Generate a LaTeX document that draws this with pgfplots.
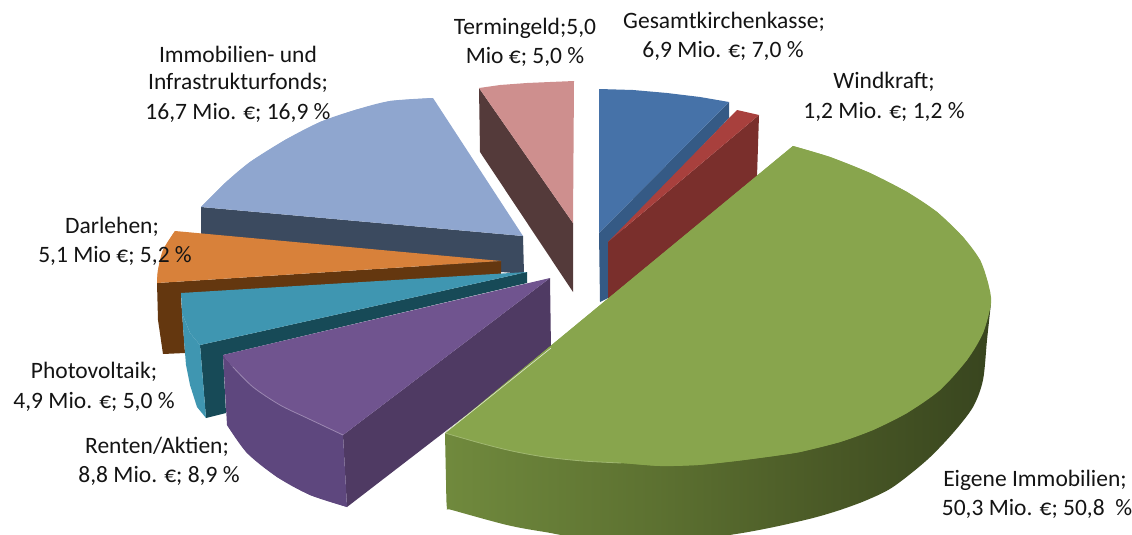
\documentclass[border=0pt]{standalone}
\usepackage{fontspec}
\setmainfont{Carlito}
\usepackage{pgfplots}
\pgfplotsset{compat=1.18}
\definecolor{cPink}{HTML}{CE8F8E}
\definecolor{cPinkS}{HTML}{543A3A}
\definecolor{cLB}{HTML}{8FA6CF}
\definecolor{cLBS}{HTML}{3B4A5F}
\definecolor{cOr}{HTML}{D8813A}
\definecolor{cOrS}{HTML}{64370F}
\definecolor{cTe}{HTML}{3F96B1}
\definecolor{cTeS}{HTML}{174A57}
\definecolor{cPu}{HTML}{70548F}
\definecolor{cPuS}{HTML}{4F3A63}
\definecolor{cPuF}{HTML}{5E477E}
\definecolor{cBl}{HTML}{4672A8}
\definecolor{cBlS}{HTML}{355A85}
\definecolor{cRe}{HTML}{A8403D}
\definecolor{cReS}{HTML}{7A2F2C}
\definecolor{cGr}{HTML}{88A54D}
\pgfdeclarehorizontalshading{greenside}{100bp}{
  rgb(0bp)=(0.44,0.54,0.24);
  rgb(25bp)=(0.44,0.54,0.24);
  rgb(45bp)=(0.36,0.44,0.19);
  rgb(60bp)=(0.29,0.35,0.15);
  rgb(75bp)=(0.22,0.27,0.12);
  rgb(100bp)=(0.22,0.27,0.12)}
\tikzset{lab/.style={font=\fontsize{23.5}{28}\selectfont, text=black!92, inner sep=0pt, anchor=center}}
\begin{document}
\begin{tikzpicture}
\useasboundingbox (0,0) rectangle (1132pt,535pt);
\begin{axis}[
  hide axis, x=1pt, y=1pt, at={(0,0)}, anchor=south west,
  xmin=0, xmax=1132, ymin=0, ymax=535, y dir=reverse, no markers,
  clip=true
]
% Termingeld
\addplot[draw=none, fill=cPinkS] coordinates {(479,88)(573,223)(573,292)(480,152)} --cycle;
\addplot[draw=none, fill=cPink] coordinates {(479,88)(500,85)(527,83)(550,82)(574,81)(573,223)} --cycle;
% Immobilien- und Infrastrukturfonds
\addplot[draw=none, fill=cLBS] coordinates {(201,207)(523,236)(524,274)(201,245)} --cycle;
\addplot[draw=none, fill=cLB] coordinates {(201,207)(225,183)(250,162)(285,140)(320,122)(355,110)(390,101)(433,98)(523,236)} --cycle;
\addplot[smooth, draw=none, fill=cLB] coordinates {(201,207)(225,183)(250,162)(285,140)(320,122)(355,110)(390,101)(433,98)} --cycle;
% Darlehen
\addplot[draw=none, fill=cOrS] coordinates {(157,283)(501,261)(501,275)(181,298)(185,353)(163,354)(158,320)} --cycle;
\addplot[draw=none, fill=cOr] coordinates {(175,231)(501,261)(157,283)(158,270)(163,250)} --cycle;
\addplot[smooth, draw=none, fill=cOr] coordinates {(175,231)(163,250)(158,270)(157,283)} --cycle;
% Photovoltaik
\addplot[draw=none, fill=cTeS] coordinates {(200,345)(527,272)(527,283)(223,355)(226,413)(206,418)} --cycle;
\addplot[draw=none, fill=cTe] coordinates {(182,313)(190,333)(200,345)(206,418)(197,407)(190,385)(186,365)(184,340)} --cycle;
\addplot[draw=none, fill=cTe] coordinates {(181,293)(527,272)(200,345)(190,333)(182,313)} --cycle;
% Renten/Aktien
\addplot[draw=none, fill=cPuS] coordinates {(343,435)(550,278)(551,350)(347,507)} --cycle;
\addplot[draw=none, fill=cPuF] coordinates {(223,355)(233,367)(253,387)(280,405)(307,418)(343,435)(347,507)(310,495)(277,477)(247,453)(227,425)} --cycle;
\addplot[smooth, draw=none, fill=cPuF] coordinates {(227,425)(247,453)(277,477)(310,495)(347,507)} --cycle;
\addplot[draw=none, fill=cPu] coordinates {(223,355)(233,367)(253,387)(280,405)(307,418)(343,435)(550,278)} --cycle;
\addplot[smooth, draw=none, fill=cPu] coordinates {(223,355)(233,367)(253,387)(280,405)(307,418)(343,435)} --cycle;
\addplot[smooth, color=cPu!70!white, line width=0.8pt] coordinates {(233,367)(253,387)(280,405)(307,418)(343,435)};
% Gesamtkirchenkasse
\addplot[draw=none, fill=cBlS] coordinates {(729,102)(729,118)(608,245)(608,298)(600,302)(599,233)} --cycle;
\addplot[draw=none, fill=cBl] coordinates {(599,89)(633,90)(667,93)(700,97)(729,102)(599,233)} --cycle;
% Windkraft
\addplot[draw=none, fill=cReS] coordinates {(759,115)(757,177)(608,305)(608,242)} --cycle;
\addplot[draw=none, fill=cRe] coordinates {(737,110)(759,115)(608,242)} --cycle;
% Eigene Immobilien
\addplot[smooth, draw=none, shading=greenside] coordinates {(445,433)(446,480)(447,508)(452,510)(507,525)(545,532)(583,537)(698,538)(736,534)(774,527)(813,518)(840,510)(867,500)(893,487)(927,460)(953,433)(973,407)(983,380)(987,340)(991,303)} --cycle;
\addplot[draw=none, fill=cGr] coordinates {(793,146)(830,157)(870,173)(907,192)(937,212)(963,237)(980,260)(988,283)(991,303)(983,333)(967,360)(940,390)(907,413)(873,430)(840,442)(800,452)(774,456)(736,461)(698,465)(660,466)(621,463)(583,461)(545,457)(512,451)(480,443)(445,433)} --cycle;
\addplot[smooth, draw=none, fill=cGr] coordinates {(793,146)(830,157)(870,173)(907,192)(937,212)(963,237)(980,260)(988,283)(991,303)(983,333)(967,360)(940,390)(907,413)(873,430)(840,442)(800,452)(774,456)(736,461)(698,465)(660,466)(621,463)(583,461)(545,457)(512,451)(480,443)(445,433)} --cycle;
\addplot[smooth, color=cGr!80!white, line width=0.8pt] coordinates {(445,433)(480,443)(512,451)(545,457)(583,461)(621,463)};
\addplot[color=white!75!cGr, line width=0.6pt] coordinates {(445,433)(551,348)};
% Labels
\node[lab] at (axis cs:724,22) {Gesamtkirchenkasse;};
\node[lab] at (axis cs:723,51) {6,9 Mio. €; 7,0 \%};
\node[lab] at (axis cs:884,82) {Windkraft;};
\node[lab] at (axis cs:884,112) {1,2 Mio. €; 1,2 \%};
\node[lab] at (axis cs:525,28) {Termingeld;5,0};
\node[lab] at (axis cs:525,57) {Mio €; 5,0 \%};
\node[lab] at (axis cs:238,54) {Immobilien- und};
\node[lab] at (axis cs:238,83) {Infrastrukturfonds;};
\node[lab] at (axis cs:238,113) {16,7 Mio. €; 16,9 \%};
\node[lab] at (axis cs:112,227) {Darlehen;};
\node[lab] at (axis cs:115,256) {5,1 Mio €; 5,2 \%};
\node[lab] at (axis cs:94,372) {Photovoltaik;};
\node[lab] at (axis cs:94,402) {4,9 Mio. €; 5,0 \%};
\node[lab] at (axis cs:157,447) {Renten/Aktien;};
\node[lab] at (axis cs:159,476) {8,8 Mio. €; 8,9 \%};
\node[lab] at (axis cs:1035,480) {Eigene Immobilien;};
\node[lab] at (axis cs:1037,509) {50,3 Mio. €; 50,8 ~\%};
\end{axis}
\end{tikzpicture}
\end{document}
